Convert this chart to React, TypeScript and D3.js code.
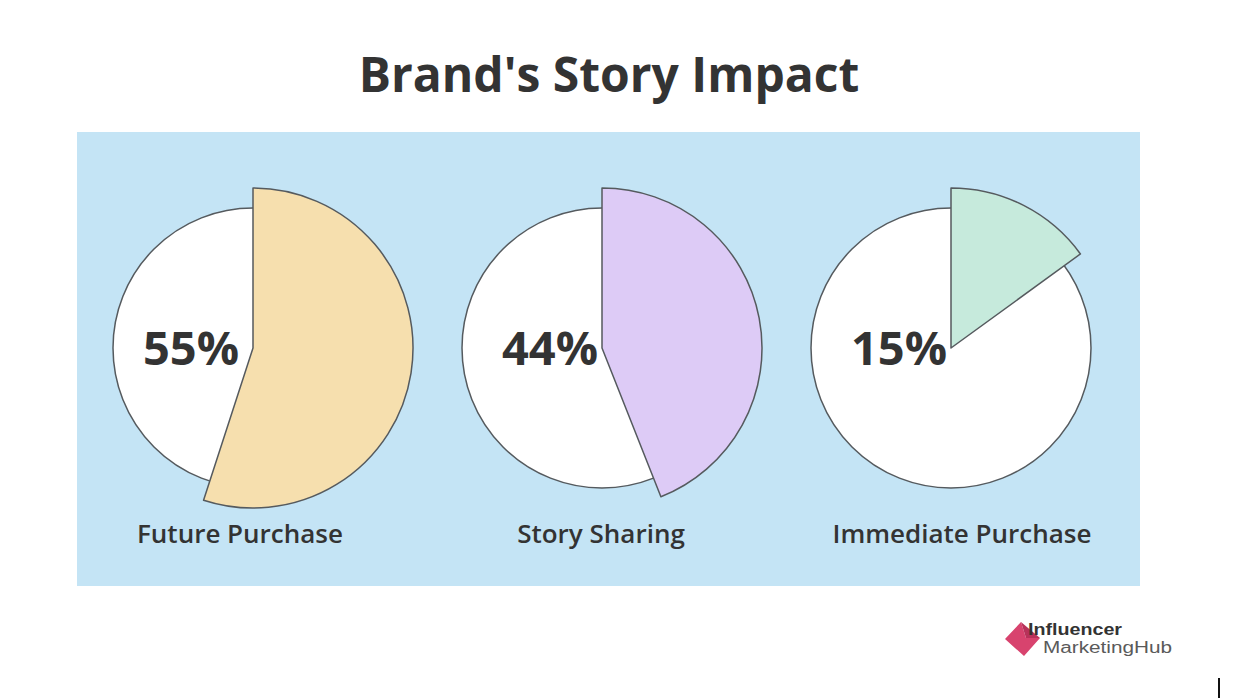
import { useEffect, useRef } from "react";
import * as d3 from "d3";

const categories = ["Future Purchase", "Story Sharing", "Immediate Purchase"];
const shares = [55, 44, 15];
const sliceColors = ["#f6dfae", "#ddcbf6", "#c6eadc"];

const W = 1244;
const H = 700;

export default function App() {
  const ref = useRef<SVGSVGElement>(null);

  useEffect(() => {
    if (!ref.current) return;
    const svg = d3.select(ref.current);
    svg.selectAll("*").remove();

    const font = "'Open Sans', 'Noto Sans', sans-serif";
    const ink = "#333333";

    svg.append("rect").attr("width", W).attr("height", H).attr("fill", "#ffffff");

    svg
      .append("text")
      .attr("x", 609)
      .attr("y", 92)
      .attr("text-anchor", "middle")
      .style("font-family", font)
      .style("font-size", "48px")
      .style("font-weight", "700")
      .style("fill", ink)
      .text("Brand's Story Impact");

    // blue panel
    svg
      .append("rect")
      .attr("x", 77)
      .attr("y", 132)
      .attr("width", 1063)
      .attr("height", 454)
      .attr("fill", "#c4e4f5");

    const x = d3.scalePoint<string>().domain(categories).range([253, 951]);
    const xLabel = d3.scalePoint<string>().domain(categories).range([240, 962]);
    const cy = 348;
    const r = 140;
    const rOut = 160;

    const pie = d3
      .pie<number>()
      .value((d) => d)
      .sort(null);
    const arcOut = d3.arc<d3.PieArcDatum<number>>().innerRadius(0).outerRadius(rOut);

    categories.forEach((cat, i) => {
      const g = svg.append("g").attr("transform", `translate(${x(cat)},${cy})`);
      const arcs = pie([shares[i], 100 - shares[i]]);

      g.append("circle")
        .attr("r", r)
        .attr("fill", "#ffffff")
        .attr("stroke", "#555a5e")
        .attr("stroke-width", 1.5);

      g.append("path")
        .attr("d", arcOut(arcs[0]) as string)
        .attr("fill", sliceColors[i])
        .attr("stroke", "#555a5e")
        .attr("stroke-width", 1.5)
        .attr("stroke-linejoin", "round");

      g.append("text")
        .attr("x", i === 0 ? -14 : -4)
        .attr("y", 0)
        .attr("dy", "0.36em")
        .attr("text-anchor", "end")
        .style("font-family", font)
        .style("font-size", "47px")
        .style("font-weight", "700")
        .style("fill", ink)
        .text(`${shares[i]}%`);

      svg
        .append("text")
        .attr("x", xLabel(cat)!)
        .attr("y", 543)
        .attr("text-anchor", "middle")
        .style("font-family", font)
        .style("font-size", "26px")
        .style("font-weight", "600")
        .style("fill", ink)
        .text(cat);
    });

    // logo
    const logo = svg.append("g");
    logo
      .append("path")
      .attr("d", "M1005,639 L1021,622 L1026,638 L1040,638 L1024,656 Z")
      .attr("fill", "#d8436e");
    logo
      .append("path")
      .attr("d", "M1021,622 L1026,638 L1040,638 Z")
      .attr("fill", "#b8325a");
    const logoFont = "'Liberation Sans', Arial, sans-serif";
    logo
      .append("text")
      .attr("x", 1028)
      .attr("y", 635)
      .attr("textLength", 94)
      .attr("lengthAdjust", "spacingAndGlyphs")
      .style("font-family", logoFont)
      .style("font-size", "16px")
      .style("font-weight", "700")
      .style("fill", ink)
      .text("Influencer");
    logo
      .append("text")
      .attr("x", 1043)
      .attr("y", 653)
      .attr("textLength", 129)
      .attr("lengthAdjust", "spacingAndGlyphs")
      .style("font-family", logoFont)
      .style("font-size", "16px")
      .style("font-weight", "400")
      .style("fill", "#5a5a5a")
      .text("MarketingHub");

    svg
      .append("line")
      .attr("x1", 1219)
      .attr("x2", 1219)
      .attr("y1", 678)
      .attr("y2", 698)
      .attr("stroke", "#111")
      .attr("stroke-width", 2);
  }, []);

  return (
    <svg
      ref={ref}
      width={W}
      height={H}
      style={{ position: "absolute", left: 0, top: 0, display: "block" }}
    />
  );
}
